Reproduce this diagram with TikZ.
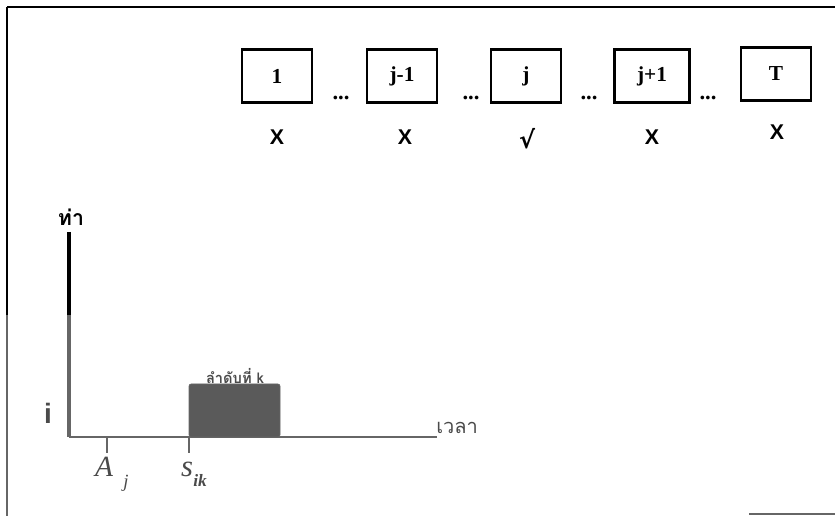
\documentclass[tikz,border=0pt]{standalone}
\usepackage{fontspec}
\setmainfont{Liberation Serif}
\newfontfamily\thaifont[Script=Thai]{Loma}
\newfontfamily\sansfont{Liberation Sans}
\newfontfamily\symfont{DejaVu Sans}
\definecolor{ink}{HTML}{000000}
\definecolor{faded}{HTML}{666666}
\definecolor{fadedtext}{HTML}{4A4A4A}
\definecolor{blockfill}{HTML}{5A5A5A}
\tikzset{
  slot/.style={draw=ink, line width=2.2pt, minimum width=52.5pt, minimum height=40pt,
               inner sep=0pt, font=\bfseries\fontsize{16}{16}\selectfont},
  gap/.style={inner sep=0pt, font=\bfseries\fontsize{17}{17}\selectfont},
  statusmark/.style={inner sep=0pt, font=\sansfont\bfseries\fontsize{16}{16}\selectfont},
  tickline/.style={draw=faded, line width=1.5pt},
  axislbl/.style={inner sep=0pt, text=fadedtext},
}
\begin{document}
\begin{tikzpicture}[x=0.75pt,y=-0.75pt]
\useasboundingbox (0,0) rectangle (835,516);

% page frame
\coordinate (fTL) at (7,7);
\coordinate (fTR) at (835,7);
\coordinate (fML) at (7,315);
\coordinate (fBL) at (7,516);
\coordinate (fBR1) at (749,514);
\coordinate (fBR2) at (835,514);
\draw[line width=1.8pt, ink] (fTL) -- (fTR);
\draw[line width=1.8pt, ink] (fTL) -- (fML);
\draw[line width=1.8pt, faded] (fML) -- (fBL);
\draw[line width=1.8pt, faded] (fBR1) -- (fBR2);

% time slots
\node[slot] (s1)  at (277,76) {1};
\node[slot] (s2)  at (402,76) {j-1};
\node[slot] (s3)  at (526,76) {j};
\node[slot, minimum width=56pt] (s4) at (652,76) {j+1};
\node[slot] (s5)  at (776,74) {T};

\node[gap] (d1) at (341,98) {...};
\node[gap] (d2) at (471,98) {...};
\node[gap] (d3) at (589,98) {...};
\node[gap] (d4) at (708,98) {...};

\node[statusmark] (m1) at (277,137) {X};
\node[statusmark] (m2) at (405,137) {X};
\node[inner sep=0pt, font=\symfont\bfseries\fontsize{18}{18}\selectfont] (m3) at (527,139) {√};
\node[statusmark] (m4) at (652,137) {X};
\node[statusmark] (m5) at (777,132) {X};

% berth/time chart
\coordinate (yTop) at (69,232);
\coordinate (yMid) at (69,315);
\coordinate (o)    at (69,437);
\coordinate (xEnd) at (437,437);
\draw[line width=2.4pt, ink] (yTop) -- (yMid);
\draw[line width=2.4pt, faded] (yMid) -- (o);
\draw[line width=1.8pt, faded] (o) -- (xEnd);

\node[inner sep=0pt, font=\thaifont\bfseries\fontsize{16}{16}\selectfont] (ylab) at (71,217) {ท่า};
\node[axislbl, anchor=west, font=\thaifont\fontsize{15}{15}\selectfont] (xlab) at (436,428) {เวลา};
\node[axislbl, font=\sansfont\bfseries\fontsize{21}{21}\selectfont] (ilab) at (48,413) {i};

% job k on berth i
\coordinate (tA) at (107,437);
\coordinate (tS) at (189,437);
\draw[tickline] (tA) -- ++(0,16) coordinate (tAe);
\draw[tickline] (tS) -- ++(0,16) coordinate (tSe);
\node[axislbl, font=\itshape\fontsize{22}{22}\selectfont] (Alab) at (104,467) {A};
\node[axislbl, font=\itshape\fontsize{14}{14}\selectfont] (jlab) at (126,483) {j};
\node[axislbl, font=\itshape\fontsize{23}{23}\selectfont] (slab) at (187,469) {s};
\node[axislbl, font=\itshape\bfseries\fontsize{13}{13}\selectfont] (iklab) at (200,480) {ik};

\draw[fill=blockfill, draw=faded, rounded corners=1.5pt] (189,384) rectangle (280,437);
\coordinate (blk) at (235,376);
\node[inner sep=0pt, text=fadedtext, font=\thaifont\bfseries\fontsize{11}{11}\selectfont] (klab) at (blk) {ลำดับที่ k};
\end{tikzpicture}
\end{document}
